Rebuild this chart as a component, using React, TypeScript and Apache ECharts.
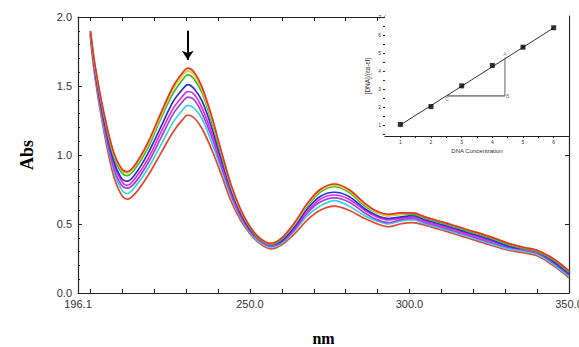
import React, { useEffect, useRef } from "react";
import * as echarts from "echarts";

// Wavelength grid (nm)
const wavelengths = [200, 201.5, 204, 207, 209.5, 211.5, 214, 218, 222, 226, 229, 230.5, 232.5, 235, 238, 241, 244, 247, 250, 253, 256.5, 260, 264, 268, 272, 276.5, 281, 286, 290, 293.5, 297, 301, 305, 311, 318, 325, 331, 336, 340, 345, 350];

// Absorbance spectra, highest to lowest (DNA additions)
const absRedTop = [1.90, 1.64, 1.33, 1.04, 0.91, 0.88, 0.93, 1.09, 1.30, 1.50, 1.60, 1.63, 1.60, 1.49, 1.28, 1.03, 0.79, 0.61, 0.48, 0.40, 0.36, 0.40, 0.51, 0.65, 0.75, 0.79, 0.75, 0.65, 0.59, 0.57, 0.58, 0.58, 0.55, 0.51, 0.46, 0.41, 0.36, 0.33, 0.31, 0.25, 0.16];
const absYellow = [1.89, 1.63, 1.32, 1.03, 0.90, 0.87, 0.92, 1.07, 1.28, 1.48, 1.58, 1.61, 1.58, 1.47, 1.26, 1.02, 0.78, 0.60, 0.48, 0.40, 0.36, 0.40, 0.50, 0.64, 0.74, 0.78, 0.74, 0.64, 0.58, 0.56, 0.57, 0.58, 0.55, 0.51, 0.46, 0.41, 0.36, 0.33, 0.31, 0.25, 0.16];
const absGreen = [1.89, 1.63, 1.31, 1.01, 0.88, 0.85, 0.90, 1.05, 1.26, 1.45, 1.55, 1.58, 1.55, 1.45, 1.24, 1.00, 0.77, 0.60, 0.47, 0.39, 0.35, 0.39, 0.50, 0.63, 0.73, 0.77, 0.73, 0.63, 0.58, 0.56, 0.57, 0.57, 0.54, 0.50, 0.45, 0.40, 0.35, 0.32, 0.30, 0.24, 0.15];
const absBlue = [1.88, 1.61, 1.28, 0.98, 0.84, 0.81, 0.86, 1.01, 1.20, 1.39, 1.48, 1.51, 1.48, 1.39, 1.20, 0.97, 0.75, 0.58, 0.46, 0.39, 0.35, 0.38, 0.48, 0.61, 0.70, 0.73, 0.70, 0.61, 0.56, 0.54, 0.55, 0.56, 0.53, 0.49, 0.44, 0.39, 0.34, 0.32, 0.30, 0.23, 0.14];
const absMagenta = [1.88, 1.60, 1.27, 0.96, 0.82, 0.78, 0.83, 0.97, 1.16, 1.34, 1.43, 1.46, 1.44, 1.34, 1.16, 0.95, 0.73, 0.57, 0.46, 0.38, 0.34, 0.38, 0.47, 0.59, 0.68, 0.71, 0.68, 0.60, 0.55, 0.53, 0.54, 0.55, 0.52, 0.48, 0.43, 0.38, 0.34, 0.31, 0.29, 0.23, 0.14];
const absViolet = [1.87, 1.58, 1.25, 0.93, 0.79, 0.76, 0.80, 0.94, 1.12, 1.30, 1.39, 1.42, 1.40, 1.30, 1.13, 0.92, 0.72, 0.56, 0.45, 0.38, 0.34, 0.37, 0.46, 0.58, 0.66, 0.69, 0.66, 0.58, 0.53, 0.51, 0.53, 0.54, 0.51, 0.47, 0.42, 0.37, 0.33, 0.31, 0.29, 0.22, 0.13];
const absCyan = [1.86, 1.57, 1.23, 0.91, 0.76, 0.72, 0.77, 0.90, 1.07, 1.24, 1.33, 1.36, 1.34, 1.26, 1.09, 0.90, 0.70, 0.55, 0.44, 0.37, 0.33, 0.36, 0.45, 0.56, 0.63, 0.67, 0.63, 0.56, 0.52, 0.50, 0.52, 0.53, 0.50, 0.46, 0.41, 0.36, 0.32, 0.30, 0.28, 0.21, 0.12];
const absRedBottom = [1.85, 1.55, 1.20, 0.87, 0.72, 0.68, 0.72, 0.85, 1.01, 1.17, 1.26, 1.29, 1.27, 1.19, 1.04, 0.86, 0.67, 0.53, 0.43, 0.36, 0.32, 0.35, 0.43, 0.53, 0.60, 0.63, 0.60, 0.54, 0.50, 0.48, 0.50, 0.51, 0.49, 0.45, 0.40, 0.35, 0.31, 0.29, 0.27, 0.20, 0.11];

const spectra = [absRedBottom, absCyan, absViolet, absMagenta, absBlue, absGreen, absYellow, absRedTop];
const spectraColors = ["#e8442a", "#38d4e4", "#9a48d8", "#e82ae0", "#2230e0", "#3cb83c", "#d8d820", "#e8302a"];

// Axis ticks/labels of the main plot
const xLabelValues = [196.1, 250, 300, 350];
const xTickValues = [200, 210, 220, 230, 240, 250, 260, 270, 280, 290, 300, 310, 320, 330, 340, 350];
const arrowStart = [230.5, 1.9];
const arrowEnd = [230.5, 1.69];

// Inset: [DNA]/(εa-εf) vs DNA concentration
const concentration = [1, 2, 3, 4, 5, 6];
const ratio = [1.04, 2.03, 3.18, 4.31, 5.32, 6.4];
const fitLine = [[1, 1.01], [6, 6.39]];
const pointC = [2.52, 2.62];
const pointB = [4.41, 2.62];
const pointA = [4.41, 4.75];
const insetXLabels = [1, 2, 3, 4, 5, 6];
const insetXTicks = [1, 1.5, 2, 2.5, 3, 3.5, 4, 4.5, 5, 5.5, 6];
const insetYLabels = [1, 2, 3, 4, 5, 6, 7];
const insetYTicks = [0.5, 1, 1.5, 2, 2.5, 3, 3.5, 4, 4.5, 5, 5.5, 6, 6.5, 7];

const AX = "#222";
const LABEL_FONT = "Liberation Sans";

export default function App() {
  const ref = useRef<HTMLDivElement>(null);
  useEffect(() => {
    const chart = echarts.init(ref.current!, null, { renderer: "svg" });
    const mainSeries: any[] = spectra.map((vals, k) => ({
      type: "line",
      xAxisIndex: 0,
      yAxisIndex: 0,
      data: wavelengths.map((w, i) => [w, vals[i]]),
      smooth: 0.35,
      showSymbol: false,
      lineStyle: { color: spectraColors[k], width: 1.7 },
      z: 2 + k,
      silent: true,
    }));
    mainSeries[mainSeries.length - 1].markLine = {
      silent: true,
      symbol: ["none", "arrow"],
      symbolSize: 9,
      label: { show: false },
      lineStyle: { color: "#000", width: 2, type: "solid" },
      data: [[{ coord: arrowStart }, { coord: arrowEnd }]],
    };

    const option: any = {
      animation: false,
      backgroundColor: "#fff",
      grid: [
        { left: 78, top: 17, right: 10, bottom: 54, outerBoundsMode: "none", containLabel: false },
        { left: 385, top: 16, right: 10, height: 120, outerBoundsMode: "none", containLabel: false, show: true, backgroundColor: "#fff", borderWidth: 0, z: 20 },
      ],
      xAxis: [
        {
          gridIndex: 0, type: "value", min: 196.1, max: 350, position: "bottom",
          name: "nm", nameLocation: "middle", nameGap: 37,
          nameTextStyle: { fontFamily: "Liberation Serif", fontWeight: "bold", fontSize: 16, color: "#000" },
          axisLine: { onZero: false, lineStyle: { color: AX, width: 1.2 } },
          axisTick: { inside: true, length: 4, customValues: xTickValues, lineStyle: { color: AX } },
          axisLabel: { customValues: xLabelValues, formatter: (v: number) => v.toFixed(1), color: "#333", fontSize: 11, fontFamily: LABEL_FONT, margin: 5 },
          splitLine: { show: false },
        },
        {
          gridIndex: 0, type: "value", min: 196.1, max: 350, position: "top",
          axisLine: { onZero: false, lineStyle: { color: AX, width: 1 } },
          axisTick: { inside: true, length: 4, customValues: xTickValues, lineStyle: { color: AX } },
          axisLabel: { show: false },
          splitLine: { show: false },
        },
        {
          gridIndex: 1, type: "value", min: 0.5, max: 6.5, position: "bottom",
          name: "DNA Concentration", nameLocation: "middle", nameGap: 12,
          nameTextStyle: { fontFamily: LABEL_FONT, fontSize: 6, color: "#333" },
          axisLine: { onZero: false, lineStyle: { color: AX, width: 1 } },
          axisTick: { inside: false, length: 2, customValues: insetXTicks, lineStyle: { color: AX } },
          axisLabel: { customValues: insetXLabels, color: "#333", fontSize: 5, fontFamily: LABEL_FONT, margin: 3 },
          splitLine: { show: false },
        },
        {
          gridIndex: 1, type: "value", min: 0.5, max: 6.5, position: "top",
          axisLine: { onZero: false, lineStyle: { color: AX, width: 1 } },
          axisTick: { inside: true, length: 2, customValues: insetXTicks, lineStyle: { color: AX } },
          axisLabel: { show: false },
          splitLine: { show: false },
        },
      ],
      yAxis: [
        {
          gridIndex: 0, type: "value", min: 0, max: 2, interval: 0.5, position: "left",
          name: "Abs", nameLocation: "middle", nameGap: 42,
          nameTextStyle: { fontFamily: "Liberation Serif", fontWeight: "bold", fontSize: 18, color: "#000" },
          axisLine: { show: true, onZero: false, lineStyle: { color: AX, width: 1.2 } },
          axisTick: { show: true, inside: true, length: 4, lineStyle: { color: AX } },
          minorTick: { show: true, splitNumber: 5, length: 2, lineStyle: { color: AX } },
          axisLabel: { formatter: (v: number) => v.toFixed(1), color: "#333", fontSize: 11, fontFamily: LABEL_FONT, margin: 6 },
          splitLine: { show: false },
        },
        {
          gridIndex: 0, type: "value", min: 0, max: 2, interval: 0.5, position: "right",
          axisLine: { show: true, onZero: false, lineStyle: { color: AX, width: 1.2 } },
          axisTick: { show: true, inside: true, length: 4, lineStyle: { color: AX } },
          axisLabel: { show: false },
          splitLine: { show: false },
        },
        {
          gridIndex: 1, type: "value", min: 0.4, max: 7.05, position: "left",
          name: "[DNA]/(εa-εf)", nameLocation: "middle", nameGap: 14,
          nameTextStyle: { fontFamily: LABEL_FONT, fontSize: 6.5, color: "#333" },
          axisLine: { show: true, onZero: false, lineStyle: { color: AX, width: 1 } },
          axisTick: { show: true, inside: false, length: 2, customValues: insetYTicks, lineStyle: { color: AX } },
          axisLabel: { customValues: insetYLabels, color: "#333", fontSize: 5, fontFamily: LABEL_FONT, margin: 4 },
          splitLine: { show: false },
        },
        {
          gridIndex: 1, type: "value", min: 0.4, max: 7.05, position: "right",
          axisLine: { show: true, onZero: false, lineStyle: { color: AX, width: 1 } },
          axisTick: { show: false },
          axisLabel: { show: false },
          splitLine: { show: false },
        },
      ],
      series: [
        ...mainSeries,
        {
          type: "line", xAxisIndex: 2, yAxisIndex: 2, data: fitLine, showSymbol: false,
          lineStyle: { color: "#333", width: 1 }, z: 21, silent: true,
        },
        {
          type: "scatter", xAxisIndex: 2, yAxisIndex: 2,
          data: concentration.map((c, i) => [c, ratio[i]]),
          symbol: "rect", symbolSize: 5, itemStyle: { color: "#000" }, z: 22, silent: true,
        },
        {
          type: "line", xAxisIndex: 2, yAxisIndex: 2, data: [pointC, pointB], showSymbol: false,
          lineStyle: { color: "#333", width: 1 }, z: 21, silent: true,
        },
        {
          type: "line", xAxisIndex: 2, yAxisIndex: 2, data: [pointB, pointA], showSymbol: false,
          lineStyle: { color: "#666", width: 1 }, z: 21, silent: true,
        },
        {
          type: "scatter", xAxisIndex: 2, yAxisIndex: 2, symbolSize: 0, z: 23, silent: true,
          data: [
            { name: "C", value: pointC, label: { position: "bottom", distance: 1 } },
            { name: "B", value: pointB, label: { position: "right", distance: 1 } },
            { name: "A", value: pointA, label: { position: "top", distance: 1 } },
          ],
          label: { show: true, formatter: "{b}", fontSize: 5, color: "#555", fontFamily: LABEL_FONT },
        },
      ],
    };
    chart.setOption(option);
    return () => chart.dispose();
  }, []);
  return (
    <div
      ref={ref}
      style={{ position: "absolute", left: 0, top: 0, width: 579, height: 347, background: "#fff" }}
    />
  );
}
